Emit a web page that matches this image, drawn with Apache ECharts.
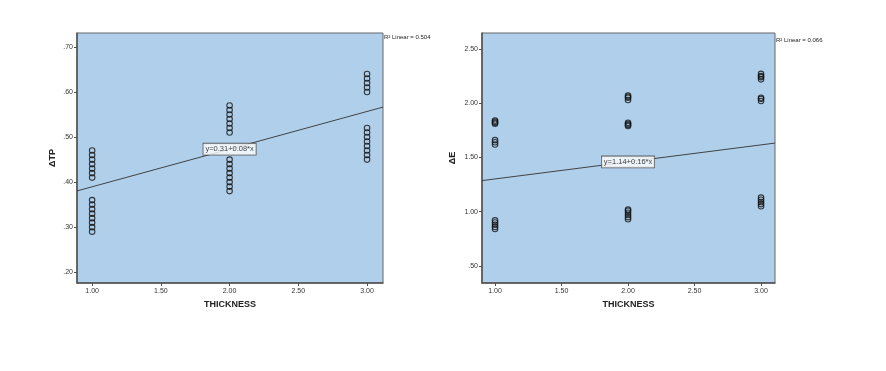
<!DOCTYPE html>
<html><head><meta charset="utf-8">
<script src="https://cdn.jsdelivr.net/npm/echarts@6/dist/echarts.min.js"></script>
<style>html,body{margin:0;padding:0;background:#fff}#c{width:886px;height:371px}</style>
</head><body><div id="c"></div>
<script>
// ---- data ----
const thickness = [1, 2, 3];
const dtpAt1 = [0.29,0.30,0.31,0.32,0.33,0.34,0.35,0.36,0.41,0.42,0.43,0.44,0.45,0.46,0.47];
const dtpAt2 = [0.38,0.39,0.40,0.41,0.42,0.43,0.44,0.45,0.51,0.52,0.53,0.54,0.55,0.56,0.57];
const dtpAt3 = [0.45,0.46,0.47,0.48,0.49,0.50,0.51,0.52,0.60,0.61,0.62,0.63,0.64];
const deAt1 = [0.84,0.86,0.88,0.90,0.92,1.62,1.64,1.66,1.81,1.82,1.83,1.84];
const deAt2 = [0.93,0.95,0.97,0.99,1.01,1.02,1.79,1.80,1.81,1.82,2.03,2.05,2.06,2.07];
const deAt3 = [1.05,1.07,1.09,1.11,1.13,2.02,2.04,2.05,2.22,2.24,2.25,2.27];
const fitTP = [0.306, 0.0836];   // intercept, slope
const fitE  = [1.145, 0.157];
const eqTP = 'y=0.31+0.08*x';
const eqE  = 'y=1.14+0.16*x';
const r2TP = 'R² Linear = 0.504';
const r2E  = 'R² Linear = 0.066';
const xTicks = [1.00, 1.50, 2.00, 2.50, 3.00];
const yTicksTP = [0.20, 0.30, 0.40, 0.50, 0.60, 0.70];
const yTicksE = [0.50, 1.00, 1.50, 2.00, 2.50];
const xTitle = 'THICKNESS', yTitleTP = 'ΔTP', yTitleE = 'ΔE';

// ---- build ----
const toPts = (groups) => groups.flatMap((g, i) => g.map(v => [thickness[i], v]));
const ptsTP = toPts([dtpAt1, dtpAt2, dtpAt3]);
const ptsE = toPts([deAt1, deAt2, deAt3]);
const spss = v => v.toFixed(2).replace(/^0/, '');
const font = 'Liberation Sans, Arial, sans-serif';
const bg = '#b0cfea';

const xRangeTP = [0.89, 3.116], yRangeTP = [0.176, 0.731];
const xRangeE = [0.902, 3.105], yRangeE = [0.343, 2.647];

function xAx(gi, range) {
  return {
    type: 'value', gridIndex: gi, min: range[0], max: range[1],
    name: xTitle, nameLocation: 'middle', nameGap: 17,
    nameTextStyle: { fontSize: 9, fontWeight: 'bold', color: '#222', fontFamily: font },
    axisLine: { show: true, lineStyle: { color: '#505050', width: 1.5 } },
    axisTick: { show: true, length: 3, customValues: xTicks, lineStyle: { color: '#505050' } },
    axisLabel: { customValues: xTicks, formatter: v => v.toFixed(2), fontSize: 7, color: '#333', fontFamily: font, margin: 5 },
    splitLine: { show: false }
  };
}
function yAx(gi, range, ticks, name, gap) {
  return {
    type: 'value', gridIndex: gi, min: range[0], max: range[1],
    name: name, nameLocation: 'middle', nameGap: gap, nameRotate: 90,
    nameTextStyle: { fontSize: 9, fontWeight: 'bold', color: '#222', fontFamily: font },
    axisLine: { show: true, lineStyle: { color: '#505050', width: 1.5 } },
    axisTick: { show: true, length: 3, customValues: ticks, lineStyle: { color: '#505050' } },
    axisLabel: { customValues: ticks, formatter: spss, fontSize: 7, color: '#333', fontFamily: font, margin: 4 },
    splitLine: { show: false }
  };
}
function scatter(i, pts) {
  return { type: 'scatter', xAxisIndex: i, yAxisIndex: i, data: pts, symbol: 'circle', symbolSize: 5.5,
    itemStyle: { color: 'rgba(0,0,0,0)', borderColor: '#111', borderWidth: 1.1 }, silent: true, z: 3 };
}
function fitLine(i, fit, range) {
  const f = x => fit[0] + fit[1] * x;
  return { type: 'line', xAxisIndex: i, yAxisIndex: i, data: [[range[0], f(range[0])], [range[1], f(range[1])]],
    symbol: 'none', lineStyle: { color: '#333', width: 0.9 }, silent: true, z: 2 };
}
function eqLabel(i, fit, text) {
  return { type: 'scatter', xAxisIndex: i, yAxisIndex: i, data: [[thickness[1], fit[0] + fit[1] * thickness[1]]],
    symbolSize: 0, silent: true, z: 5,
    label: { show: true, position: 'inside', formatter: text, fontSize: 7.5, color: '#111', fontFamily: font,
      backgroundColor: '#fff', borderColor: '#444', borderWidth: 0.8, padding: [2, 2, 1, 2] } };
}

const chart = echarts.init(document.getElementById('c'), null, { renderer: 'canvas' });
chart.setOption({
  backgroundColor: '#fff',
  animation: false,
  grid: [
    { left: 77, top: 33, width: 306, height: 250, show: true, backgroundColor: bg, borderColor: '#666', borderWidth: 1 },
    { left: 482, top: 33, width: 293, height: 250, show: true, backgroundColor: bg, borderColor: '#666', borderWidth: 1 }
  ],
  xAxis: [xAx(0, xRangeTP), xAx(1, xRangeE)],
  yAxis: [yAx(0, yRangeTP, yTicksTP, yTitleTP, 20), yAx(1, yRangeE, yTicksE, yTitleE, 25)],
  series: [
    fitLine(0, fitTP, xRangeTP), scatter(0, ptsTP), eqLabel(0, fitTP, eqTP),
    fitLine(1, fitE, xRangeE), scatter(1, ptsE), eqLabel(1, fitE, eqE)
  ],
  graphic: [
    { type: 'text', left: 384, top: 34, style: { text: r2TP, fontSize: 6, fill: '#222', fontFamily: font } },
    { type: 'text', left: 776, top: 37, style: { text: r2E, fontSize: 6, fill: '#222', fontFamily: font } }
  ]
});
</script></body></html>
